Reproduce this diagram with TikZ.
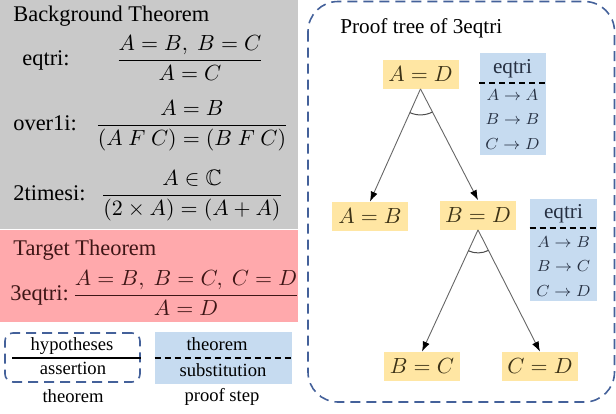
\documentclass[tikz,border=0pt]{standalone}
\usepackage{amsmath,amssymb}
\usepackage{fontspec}
\setmainfont{Liberation Serif}
\usetikzlibrary{arrows.meta, positioning, angles, calc}

\definecolor{bggrey}{RGB}{201,201,201}
\definecolor{tgtpink}{RGB}{255,169,172}
\definecolor{goalyellow}{RGB}{255,230,163}
\definecolor{stepblue}{RGB}{198,219,240}
\definecolor{frameblue}{RGB}{68,97,154}
\definecolor{pinktext}{RGB}{62,22,22}
\definecolor{yellowtext}{RGB}{60,50,22}
\definecolor{bluetext}{RGB}{38,48,66}

\begin{document}
\begin{tikzpicture}[
    x=0.5pt, y=-0.5pt,
    every node/.style={inner sep=0pt, font=\fontsize{11.2}{13}\selectfont},
    heading/.style={anchor=base west},
    rulename/.style={anchor=base west},
    rulefrac/.style={anchor=base},
    goal/.style={rectangle, fill=goalyellow, text=yellowtext, minimum width=38pt, minimum height=14.5pt},
    stepbox/.style={rectangle, fill=stepblue, minimum width=33pt, minimum height=51pt},
    steptitle/.style={anchor=base, text=bluetext, font=\fontsize{10.6}{12}\selectfont},
    subst/.style={anchor=base, text=bluetext, font=\fontsize{8}{10}\selectfont},
    legend/.style={anchor=base, font=\fontsize{9.3}{11}\selectfont},
    frame/.style={draw=frameblue, line width=0.8pt, dash pattern=on 5pt off 3pt},
    divider/.style={draw=black, line width=0.7pt, dash pattern=on 3pt off 2pt},
    arrow/.style={draw=black!60, line width=0.45pt, -{Latex[length=5pt, width=3.6pt, color=black]}},
    wedge/.style={draw=black!70, line width=0.5pt},
]
\useasboundingbox (0,0) rectangle (616,413);

% Background theorems
\node[rectangle, fill=bggrey, minimum width=149pt, minimum height=114.5pt] (bgpanel) at (149,114.5) {};
\node[heading] (bgtitle) at (13,21) {Background Theorem};
\node[rulename] (eqtriname) at (22,65.6) {eqtri:};
\node[rulefrac] (eqtrifrac) at (190,65.6) {$\displaystyle\frac{A=B,\ B=C}{A=C}$};
\node[rulename] (overname) at (13,130.6) {over1i:};
\node[rulefrac] (overfrac) at (192,130.6) {$\displaystyle\frac{A=B}{(A\ F\ C)=(B\ F\ C)}$};
\node[rulename] (timesname) at (13,200.6) {2timesi:};
\node[rulefrac] (timesfrac) at (192,200.6) {$\displaystyle\frac{A\in\mathbb{C}}{(2\times A)=(A+A)}$};

% Target theorem
\node[rectangle, fill=tgtpink, minimum width=149pt, minimum height=46pt] (tgtpanel) at (149,276) {};
\node[heading, text=pinktext] (tgttitle) at (13,255) {Target Theorem};
\node[rulename, text=pinktext] (tgtname) at (10,300.6) {3eqtri:};
\node[rulefrac, text=pinktext] (tgtfrac) at (186,300.6) {$\displaystyle\frac{A=B,\ B=C,\ C=D}{A=D}$};

% Legend
\node[rectangle, rounded corners=4pt, frame, minimum width=67.5pt, minimum height=24.5pt] (legthm) at (72.5,357.5) {};
\draw[line width=0.8pt] (12,358) -- (legthm.east |- 0,358);
\node[legend] (leghyp) at (72,350) {hypotheses};
\node[legend] (legass) at (73,374) {assertion};
\node[legend] (legthmlbl) at (73,402) {theorem};
\node[rectangle, fill=stepblue, minimum width=68.5pt, minimum height=26pt] (legstep) at (223.5,358) {};
\draw[divider] (legstep.west |- 0,358) -- (legstep.east |- 0,358);
\node[legend] (legname) at (217,350) {theorem};
\node[legend] (legsub) at (223,376) {substitution};
\node[legend] (legsteplbl) at (222,401) {proof step};

% Proof tree
\draw[frame, rounded corners=15pt] (308,1.5) rectangle (614.5,402);
\node[heading, font=\fontsize{10.6}{12}\selectfont] (treetitle) at (340,33) {Proof tree of 3eqtri};

\node[goal] (ad) at (420.5,74) {$A=D$};
\node[goal] (ab) at (370,216.5) {$A=B$};
\node[goal] (bd) at (478,215) {$B=D$};
\node[goal] (bc) at (422,366.5) {$B=C$};
\node[goal] (cd) at (540,366.5) {$C=D$};

\node[stepbox] (step1) at (512.5,103.5) {};
\node[steptitle] (step1name) at (512.5,73) {eqtri};
\draw[divider] (step1.west |- 0,83) -- (step1.east |- 0,83);
\foreach \sub [count=\i] in {{$A\to A$},{$B\to B$},{$C\to D$}}
    \node[subst] (step1sub\i) at (512.5,{75.5+24.5*\i}) {\sub};

\node[stepbox, minimum width=33.5pt] (step2) at (563.5,250) {};
\node[steptitle] (step2name) at (563.5,218) {eqtri};
\draw[divider] (step2.west |- 0,228) -- (step2.east |- 0,228);
\foreach \sub [count=\i] in {{$A\to B$},{$B\to C$},{$C\to D$}}
    \node[subst] (step2sub\i) at (563.5,{222.5+24.5*\i}) {\sub};

\draw[arrow] (ad.south) -- (ab.north);
\draw[arrow] (ad.south) -- (bd.north);
\draw[arrow] (bd.south) -- (bc.north);
\draw[arrow] (bd.south) -- (cd.north);

\coordinate (adfoot) at (ad.south);
\coordinate (abhead) at (ab.north);
\coordinate (bdhead) at (bd.north);
\coordinate (bdfoot) at (bd.south);
\coordinate (bchead) at (bc.north);
\coordinate (cdhead) at (cd.north);
\pic[wedge, angle radius=13pt] {angle=abhead--adfoot--bdhead};
\pic[wedge, angle radius=11.5pt] {angle=bchead--bdfoot--cdhead};

\end{tikzpicture}
\end{document}
